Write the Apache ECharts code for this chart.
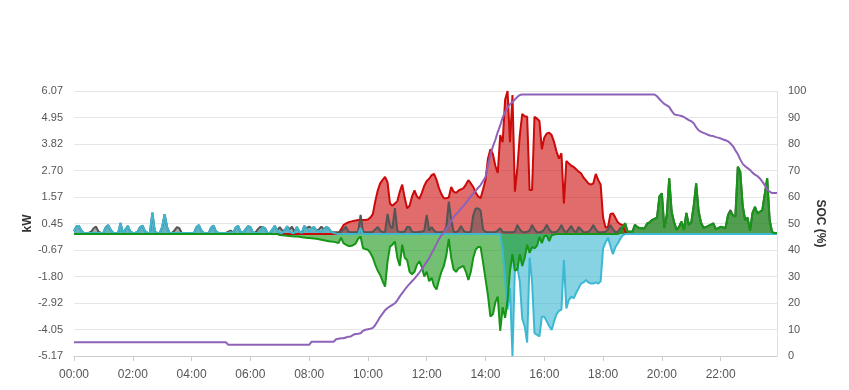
<!DOCTYPE html>
<html>
<head>
<meta charset="utf-8">
<script src="https://cdn.jsdelivr.net/npm/echarts@6/dist/echarts.min.js"></script>
<style>html,body{margin:0;padding:0;background:#fff}#c{width:849px;height:390px}</style>
</head>
<body>
<div id="c"></div>
<script>
// 5-minute categories 00:00 .. 23:55
const times = [];
for (let h = 0; h < 24; h++) for (let m = 0; m < 60; m += 5) times.push(String(h).padStart(2,'0') + ':' + String(m).padStart(2,'0'));

// Solar production (kW)
const solar = [
0,0,0,0,0,0,0,0,0,0,0,0,
0,0,0,0,0,0,0,0,0,0,0,0,
0,0,0,0,0,0,0,0,0,0,0,0,
0,0,0,0,0,0,0,0,0,0,0,0,
0,0,0,0,0,0,0,0,0,0,0,0,
0,0,0,0,0,0,0,0,0,0,0,0,
0,0,0,0,0,0,0,0,0,0,0,0,
0,0,0,0,0,0,0,0,0,0,0,0,
0,0,0,0,0,0,0,0,0,0,0,0,
0.03,0.2,0.38,0.45,0.5,0.53,0.56,0.58,0.6,0.6,0.6,0.6,
0.62,0.7,0.85,1.4,1.85,2.15,2.3,2.43,2.2,1.3,1.2,1.3,
1.4,1.8,2.1,1.55,1.1,1.2,1.6,1.85,1.6,1.5,1.75,2.05,
2.25,2.35,2.5,2.55,2.3,1.95,1.7,1.52,1.52,1.55,2.0,1.8,
1.75,1.85,1.9,1.95,2.1,2.29,2.15,2.0,1.75,1.6,1.52,1.9,
2.3,3.2,3.6,3.4,2.9,2.6,4.2,3.9,5.7,6.07,3.9,5.9,
1.8,2.8,4.2,5.1,5.0,4.98,1.87,1.87,4.98,4.9,4.8,3.6,
4.1,4.27,4.3,4.2,3.9,3.5,3.2,3.43,1.3,3.1,3.0,2.9,
2.85,2.75,2.65,2.58,2.4,2.28,2.15,2.1,2.15,2.55,2.3,2.1,
0.7,0.28,0.3,0.85,0.88,0.7,0.5,0.42,0.38,0.12,0,0,
0,0,0,0,0,0,0,0,0,0,0,0,
0,0,0,0,0,0,0,0,0,0,0,0,
0,0,0,0,0,0,0,0,0,0,0,0,
0,0,0,0,0,0,0,0,0,0,0,0,
0,0,0,0,0,0,0,0,0,0,0,0
];

// Consumption (kW)
const load = [
0.12,0.33,0.35,0.15,0.05,0.05,0.05,0.1,0.25,0.32,0.1,0.05,
0.06,0.3,0.38,0.18,0.05,0.05,0.05,0.47,0.05,0.2,0.35,0.1,
0.05,0.05,0.1,0.3,0.36,0.12,0.05,0.05,0.91,0.1,0.05,0.05,
0.3,0.85,0.3,0.05,0.05,0.15,0.3,0.25,0.05,0.05,0.05,0.05,
0.05,0.05,0.3,0.38,0.15,0.05,0.05,0.05,0.28,0.36,0.1,0.05,
0.05,0.05,0.05,0.1,0.15,0.05,0.28,0.35,0.1,0.05,0.2,0.33,
0.3,0.08,0.05,0.2,0.3,0.3,0.25,0.05,0.05,0.2,0.35,0.15,
0.3,0.15,0.15,0.33,0.2,0.32,0.1,0.3,0.1,0.05,0.35,0.25,
0.32,0.25,0.3,0.15,0.2,0.32,0.2,0.3,0.25,0.1,0.08,0.08,
0.08,0.1,0.2,0.31,0.1,0.08,0.08,0.08,0.1,0.81,0.1,0.08,
0.08,0.08,0.1,0.2,0.3,0.15,0.08,0.1,0.85,0.35,0.25,1.1,
0.15,0.08,0.1,0.1,0.3,0.3,0.1,0.08,0.08,0.1,0.1,0.15,
0.81,0.15,0.3,0.15,0.08,0.08,0.08,0.1,0.3,1.38,0.6,0.1,
0.08,0.15,0.34,0.15,0.08,0.08,0.1,0.8,1.09,1.09,1.0,0.2,
0.1,0.08,0.08,0.08,0.08,0.15,0.25,0.1,0.08,0.08,0.08,0.08,
0.1,0.39,0.2,0.08,0.08,0.1,0.15,0.39,0.2,0.08,0.08,0.1,
0.2,0.4,0.2,0.08,0.08,0.1,0.2,0.39,0.15,0.08,0.2,0.35,
0.15,0.08,0.3,0.2,0.08,0.08,0.1,0.2,0.39,0.2,0.08,0.08,
0.08,0.1,0.2,0.39,0.2,0.08,0.1,0.25,0.3,0.46,0.12,0.1,
0.12,0.4,0.3,0.25,0.25,0.25,0.45,0.5,0.6,0.65,0.68,1.6,
1.73,0.28,0.8,2.37,0.95,0.5,0.2,0.3,0.53,0.2,0.9,0.4,
0.5,1.2,2.15,0.95,0.5,0.28,0.3,0.35,0.4,0.46,0.22,0.25,
0.31,0.28,0.28,0.81,1.02,0.8,0.74,2.86,2.65,1.2,0.6,0.7,
0.15,0.9,1.16,0.88,0.95,1.02,1.7,2.37,0.6,0.08,0.05,0.05
];

// Grid (kW): + import, - export
const grid = [
0.12,0.33,0.35,0.15,0.05,0.05,0.05,0.05,0.05,0.06,0.05,0.05,
0.06,0.3,0.38,0.18,0.05,0.05,0.05,0.47,0.05,0.2,0.35,0.1,
0.05,0.05,0.1,0.3,0.36,0.12,0.05,0.05,0.91,0.1,0.05,0.05,
0.3,0.85,0.3,0.05,0.05,0.05,0.05,0.05,0.05,0.05,0.05,0.05,
0.05,0.05,0.3,0.38,0.15,0.05,0.05,0.05,0.28,0.36,0.1,0.05,
0.05,0.05,0.05,0.05,0.08,0.05,0.28,0.35,0.1,0.05,0.2,0.33,
0.3,0.08,0.05,0.05,0.1,0.3,0.25,0.05,0.05,0.2,0.35,0.15,
0.05,0.05,0.15,0.33,0.1,0.05,0.05,0.3,0.1,0.05,0.35,0.2,
0.1,0.25,0.3,0.15,0.1,0.1,0.2,0.3,0.25,0.1,0.05,0.02,
0,0,0,0,0,0,0,0,0,0.25,0,0,
0,0,0,0,0,0,0,0,0,0,0,0,
0,0,0,0,0,0,0,0,0,0,0,0,
0,0,0,0,0,0,0,0,0,0,0,0,
0,0,0,0,0,0,0,0,0,0,0,0,
0,0,0,0,0,0,0,-0.7,-2.0,-3.2,-2.3,-5.17,
-1.4,-1.4,-2.0,-3.6,-3.9,-4.6,-1.0,-2.0,-4.2,-4.27,-4.34,-3.5,
-3.5,-3.7,-3.9,-4.07,-3.7,-3.4,-3.25,-3.2,-1.1,-3.15,-2.8,-2.65,
-2.72,-2.5,-2.3,-2.1,-2.05,-1.95,-2.05,-2.1,-2.1,-2.05,-2.1,-2.0,
-0.6,-0.35,-0.15,-0.5,-0.85,-0.55,-0.4,-0.2,-0.05,0,0,0,
0,0,0,0,0,0,0,0,0,0,0,0,
0,0,0,0,0,0,0,0,0,0,0,0,
0,0,0,0,0,0,0,0,0,0,0,0,
0,0,0,0,0,0,0,0,0,0,0,0,
0,0,0,0,0,0,0,0,0,0,0,0
];

// Battery (kW): + discharge, - charge
const battery = [
0,0,0,0,0,0,0,0,0,0,0,0,
0,0,0,0,0,0,0,0,0,0,0,0,
0,0,0,0,0,0,0,0,0,0,0,0,
0,0,0,0,0,0,0,0,0,0,0,0,
0,0,0,0,0,0,0,0,0,0,0,0,
0,0,0,0,0,0,0,0,0,0,0,0,
0,0,0,0,0,0,0,0,0,0,0,0,
-0.04,-0.05,-0.06,-0.07,-0.08,-0.09,-0.1,-0.1,-0.11,-0.13,-0.14,-0.16,
-0.17,-0.18,-0.19,-0.2,-0.22,-0.24,-0.26,-0.28,-0.3,-0.31,-0.33,-0.35,
-0.38,-0.15,-0.38,-0.45,-0.5,-0.5,-0.47,-0.4,-0.2,-0.1,-0.6,-0.63,
-0.67,-0.8,-1.0,-1.3,-1.55,-1.73,-2.0,-2.23,-1.17,-0.53,-0.45,-0.32,
-1.0,-1.35,-0.45,-1.0,-1.1,-1.6,-1.7,-1.6,-1.3,-1.15,-1.4,-1.8,
-1.6,-2.0,-1.85,-2.2,-2.35,-1.95,-1.6,-1.35,-0.9,-0.2,-1.0,-1.5,
-1.6,-1.45,-1.4,-1.35,-1.6,-1.95,-1.6,-1.0,-0.65,-0.55,-0.55,-1.2,
-1.9,-2.6,-3.5,-3.4,-2.9,-2.65,-4.1,-3.1,-3.55,-2.8,-1.55,-0.85,
-1.55,-1.5,-0.85,-1.35,-1.0,-0.45,-0.8,-0.55,-0.6,-0.5,-0.12,-0.38,
-0.1,-0.05,-0.3,-0.05,-0.02,0,0,0,0,0,0,0,
0,0,0,0,0,0,0,0,0,0,0,0,
0,0,0,0,0,0,0,0.05,0.3,0.46,0.1,0.1,
0.1,0.38,0.3,0.25,0.25,0.25,0.45,0.5,0.6,0.65,0.68,1.6,
1.73,0.25,0.8,2.37,0.95,0.5,0.17,0.3,0.53,0.17,0.9,0.4,
0.5,1.2,2.15,1.0,0.45,0.25,0.3,0.35,0.4,0.46,0.2,0.25,
0.31,0.28,0.25,0.81,0.95,0.8,0.74,2.86,2.65,1.2,0.6,0.7,
0.15,0.9,1.16,0.88,0.95,1.02,1.7,2.37,0.6,0.08,0.05,0.05
];

// Battery state of charge (%)
const soc = [
5.2,5.2,5.2,5.2,5.2,5.2,5.2,5.2,5.2,5.2,5.2,5.2,
5.2,5.2,5.2,5.2,5.2,5.2,5.2,5.2,5.2,5.2,5.2,5.2,
5.2,5.2,5.2,5.2,5.2,5.2,5.2,5.2,5.2,5.2,5.2,5.2,
5.2,5.2,5.2,5.2,5.2,5.2,5.2,5.2,5.2,5.2,5.2,5.2,
5.2,5.2,5.2,5.2,5.2,5.2,5.2,5.2,5.2,5.2,5.2,5.2,
5.2,5.2,5.2,4.2,4.2,4.2,4.2,4.2,4.2,4.2,4.2,4.2,
4.2,4.2,4.2,4.2,4.2,4.2,4.2,4.2,4.2,4.2,4.2,4.2,
4.2,4.2,4.2,4.2,4.2,4.2,4.2,4.2,4.2,4.2,4.2,4.2,
4.2,5.4,5.4,5.4,5.4,5.4,5.4,5.4,5.4,5.4,5.4,6.3,
6.5,6.7,6.7,7.0,7.3,7.4,8.0,8.3,8.4,8.6,9.5,9.9,
10.1,10.3,10.6,11.7,13.2,14.8,16.0,17.3,18.1,18.7,19.3,19.9,
21.0,22.5,23.7,25.0,26.2,27.2,28.2,29.2,30.3,31.5,32.8,34.2,
35.5,37.0,38.8,40.5,42.3,44.2,45.5,46.7,48.0,49.3,51.0,52.5,
53.5,54.5,55.6,56.6,57.8,59.0,60.2,61.3,62.3,63.5,64.5,66.0,
67.5,72.0,76.0,79.0,81.5,84.5,87.0,90.0,92.0,93.8,95.0,95.8,
96.8,97.8,98.5,98.7,98.7,98.7,98.7,98.7,98.7,98.7,98.7,98.7,
98.7,98.7,98.7,98.7,98.7,98.7,98.7,98.7,98.7,98.7,98.7,98.7,
98.7,98.7,98.7,98.7,98.7,98.7,98.7,98.7,98.7,98.7,98.7,98.7,
98.7,98.7,98.7,98.7,98.7,98.7,98.7,98.7,98.7,98.7,98.7,98.7,
98.7,98.7,98.7,98.7,98.7,98.7,98.7,98.7,98.7,98.7,98.0,97.0,
96.0,95.1,94.6,94.0,92.5,91.3,90.9,90.8,90.6,90.2,89.6,89.0,
88.6,87.8,86.3,85.2,84.6,84.2,83.8,83.4,83.1,83.0,82.6,82.4,
82.1,81.7,81.4,81.0,80.2,79.2,77.6,76.2,74.2,72.5,71.6,70.9,
70.2,69.2,68.4,67.9,67.0,65.8,64.5,62.8,62.0,61.5,61.5,61.5
];

function areaSeries(name, data, color, opacity) {
  return {
    name: name, type: 'line', data: data, yAxisIndex: 0,
    showSymbol: false, symbol: 'none',
    lineStyle: { color: color, width: 2 },
    itemStyle: { color: color },
    areaStyle: { color: color, opacity: opacity }
  };
}

const chart = echarts.init(document.getElementById('c'), null, { renderer: 'canvas' });
chart.setOption({
  animation: false,
  textStyle: { fontFamily: 'Liberation Sans, Arial, sans-serif' },
  grid: { left: 74, right: 72, top: 91, bottom: 34 },
  xAxis: {
    type: 'category', boundaryGap: false, data: times,
    axisLine: { onZero: false, lineStyle: { color: '#ccc' } },
    axisTick: { interval: 23, length: 5, lineStyle: { color: '#ccc' } },
    axisLabel: { interval: 23, color: '#555', fontSize: 12, margin: 13 },
    splitLine: { show: false }
  },
  yAxis: [
    {
      type: 'value', min: -5.17, max: 6.07, interval: 1.124,
      name: 'kW', nameLocation: 'middle', nameGap: 40, nameMoveOverlap: false,
      nameTextStyle: { fontWeight: 'bold', fontSize: 12, color: '#333' },
      axisLabel: { color: '#555', fontSize: 11, margin: 11,
        formatter: function (v) { return v.toFixed(2); } },
      axisLine: { show: false }, axisTick: { show: false },
      splitLine: { lineStyle: { color: '#e6e6e6' } }
    },
    {
      type: 'value', min: 0, max: 100, interval: 10, position: 'right',
      name: 'SOC (%)', nameLocation: 'middle', nameGap: 37, nameRotate: -90, nameMoveOverlap: false,
      nameTextStyle: { fontWeight: 'bold', fontSize: 12, color: '#333' },
      axisLabel: { color: '#555', fontSize: 11, margin: 11 },
      axisLine: { show: true, lineStyle: { color: '#e0e0e0' } }, axisTick: { show: false },
      splitLine: { show: false }
    }
  ],
  series: [
    areaSeries('Solar', solar, '#cc0a0a', 0.6),
    areaSeries('Load', load, '#555555', 0.5),
    areaSeries('Grid', grid, '#3db8d2', 0.62),
    areaSeries('Battery', battery, '#169616', 0.6),
    {
      name: 'SOC', type: 'line', data: soc, yAxisIndex: 1,
      showSymbol: false, symbol: 'none',
      lineStyle: { color: '#8e62b8', width: 2 }, itemStyle: { color: '#8e62b8' }
    }
  ]
});
</script>
</body>
</html>
